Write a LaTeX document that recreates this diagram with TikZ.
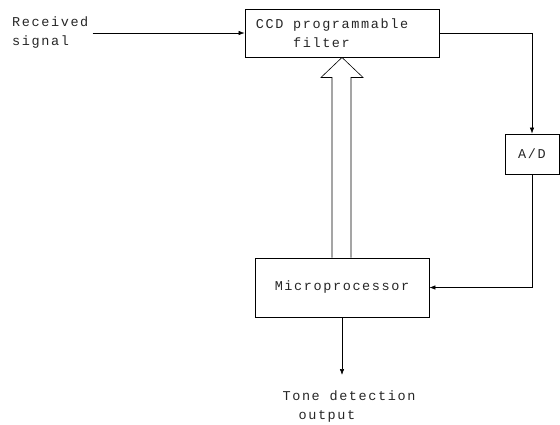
\documentclass[tikz,border=0pt]{standalone}
\usepackage{fontspec}
\usepackage{tikz}
\usetikzlibrary{arrows.meta}
\newfontfamily\typewr[LetterSpace=12]{Liberation Mono}

\begin{document}
\begin{tikzpicture}[x=1pt, y=-1pt, every node/.style={font=\typewr\fontsize{13.5}{19}\selectfont, text=black!85},
    blk/.style={draw, line width=0.9pt, inner sep=0pt},
    sig/.style={line width=0.6pt, -{Latex[length=6pt,width=4.5pt]}}]
\useasboundingbox (0,0) rectangle (560,424);
% blocks
\node[blk, minimum width=194pt, minimum height=48pt, align=left] (ccd) at (342,33) {CCD programmable\hspace*{20pt}\\\phantom{CCD }filter};
\node[blk, minimum width=54pt, minimum height=40pt] (ad) at (532,154) {A/D};
\node[blk, minimum width=174pt, minimum height=59pt] (mp) at (342,287.5) {Microprocessor};
% labels
\node[align=left, anchor=west, inner sep=4pt] (rx) at (8,33) {Received\\signal};
\node[align=left] (td) at (349,407) {Tone detection\\\hspace*{16pt}output};
\coordinate (out) at (342,375);
% connections
\draw[sig] (rx.east) -- (ccd.west);
\draw[sig] (ccd.east) -| (ad.north);
\draw[sig] (ad.south) |- (mp.east);
\draw[sig] (mp.south) -- (out);
% bus arrow
\draw[line width=0.6pt] ([xshift=-10pt]mp.north) -- ([xshift=-10pt, yshift=-20pt]ccd.south)
    -- ([xshift=-21pt, yshift=-20pt]ccd.south) -- (ccd.south)
    -- ([xshift=21pt, yshift=-20pt]ccd.south) -- ([xshift=9pt, yshift=-20pt]ccd.south)
    -- ([xshift=9pt]mp.north);
\end{tikzpicture}
\end{document}
